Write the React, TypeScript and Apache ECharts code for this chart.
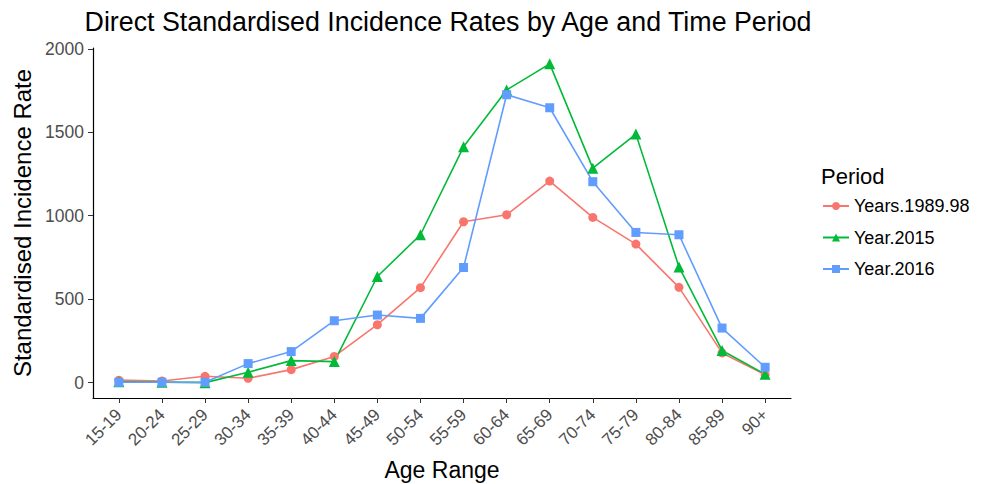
import React, { useEffect, useRef } from "react";
import * as echarts from "echarts";

const categories = ["15-19","20-24","25-29","30-34","35-39","40-44","45-49","50-54","55-59","60-64","65-69","70-74","75-79","80-84","85-89","90+"];
const years198998 = [15, 10, 38, 26, 78, 157, 347, 569, 964, 1006, 1208, 990, 830, 571, 178, 48];
const year2015 = [5, 3, 0, 62, 132, 126, 636, 886, 1413, 1754, 1910, 1285, 1489, 693, 193, 50];
const year2016 = [2, 2, 2, 114, 186, 371, 405, 385, 690, 1725, 1647, 1204, 900, 886, 327, 92];
const yTicks = [0, 500, 1000, 1500, 2000];
const seriesNames = ["Years.1989.98", "Year.2015", "Year.2016"];
const colors = ["#F8766D", "#00BA38", "#619CFF"];
const symbols = ["circle", "triangle", "rect"];

export default function App() {
  const ref = useRef<HTMLDivElement>(null);
  useEffect(() => {
    document.body.style.margin = "0";
    const chart = echarts.init(ref.current!, null, { renderer: "svg" });
    const font = "Liberation Sans, Arial, sans-serif";
    const datasets = [years198998, year2015, year2016];
    const idx = categories.map((_, i) => i);
    chart.setOption({
      animation: false,
      textStyle: { fontFamily: font },
      title: {
        text: "Direct Standardised Incidence Rates by Age and Time Period",
        left: 443,
        textAlign: "center",
        top: 3,
        textStyle: { fontSize: 26.8, fontWeight: "normal", color: "#000", fontFamily: font },
      },
      grid: { left: 93, right: 197, top: 48, bottom: 86, outerBoundsMode: "none", containLabel: false },
      xAxis: {
        type: "value",
        min: -0.6,
        max: 15.6,
        name: "Age Range",
        nameLocation: "middle",
        nameGap: 60,
        nameTextStyle: { fontSize: 23, color: "#000", fontFamily: font },
        splitLine: { show: false },
        axisLine: { show: true, onZero: false, lineStyle: { color: "#000", width: 1.2 } },
        axisTick: { show: true, length: 5, customValues: idx, lineStyle: { color: "#333" } },
        axisLabel: {
          customValues: idx,
          rotate: 45,
          margin: 14,
          fontSize: 17,
          color: "#4D4D4D",
          fontFamily: font,
          formatter: (v: number) => categories[Math.round(v)],
        },
      },
      yAxis: {
        type: "value",
        min: -92,
        max: 2005,
        name: "Standardised Incidence Rate",
        nameLocation: "middle",
        nameGap: 56,
        nameTextStyle: { fontSize: 24, color: "#000", fontFamily: font },
        splitLine: { show: false },
        axisLine: { show: true, onZero: false, lineStyle: { color: "#000", width: 1.2 } },
        axisTick: { show: true, length: 5, customValues: yTicks, lineStyle: { color: "#333" } },
        axisLabel: {
          customValues: yTicks,
          margin: 9,
          fontSize: 17.5,
          color: "#4D4D4D",
          fontFamily: font,
          formatter: (v: number) => String(v),
        },
      },
      legend: {
        orient: "vertical",
        left: 817,
        top: 192,
        itemWidth: 26,
        itemHeight: 10,
        itemGap: 13.5,
        textStyle: { fontSize: 18, color: "#000", fontFamily: font },
        data: seriesNames,
      },
      graphic: [
        {
          type: "text",
          left: 821,
          top: 165,
          style: { text: "Period", fontSize: 22, fill: "#000", fontFamily: font },
        },
      ],
      series: datasets.map((d, s) => ({
        name: seriesNames[s],
        type: "line",
        data: d.map((v, i) => [i, v]),
        symbol: symbols[s],
        symbolSize: s === 1 ? 11 : 9,
        showSymbol: true,
        color: colors[s],
        lineStyle: { width: 1.6, color: colors[s] },
        itemStyle: { color: colors[s] },
      })),
    });
    return () => chart.dispose();
  }, []);
  return <div ref={ref} style={{ width: 988, height: 484 }} />;
}
